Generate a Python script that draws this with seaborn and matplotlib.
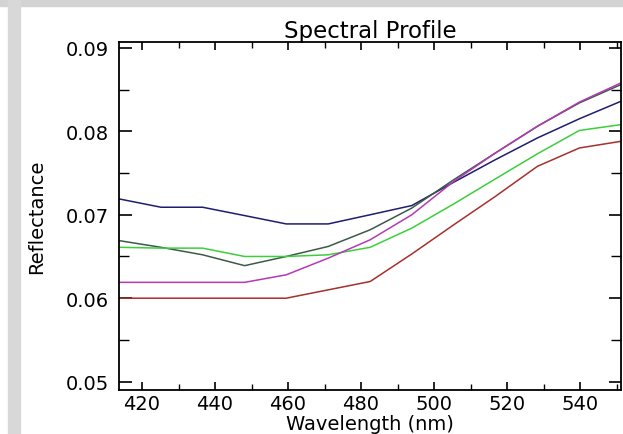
import matplotlib
matplotlib.use("Agg")
import matplotlib.pyplot as plt
from matplotlib.patches import Rectangle
from matplotlib.ticker import MultipleLocator
import numpy as np
import pandas as pd
import seaborn as sns

wavelength = [413.7, 425.2, 436.6, 448.1, 459.5, 471.0, 482.5, 493.9, 505.4, 516.8, 528.3, 539.8, 551.2]
navy = [0.0719, 0.0709, 0.0709, 0.0699, 0.0689, 0.0689, 0.0700, 0.0711, 0.0739, 0.0766, 0.0792, 0.0815, 0.0836]
darkgreen = [0.0669, 0.0661, 0.0652, 0.0639, 0.0650, 0.0662, 0.0682, 0.0708, 0.0742, 0.0774, 0.0806, 0.0834, 0.0856]
green = [0.0661, 0.0660, 0.0660, 0.0650, 0.0650, 0.0652, 0.0661, 0.0684, 0.0713, 0.0743, 0.0773, 0.0801, 0.0808]
magenta = [0.0619, 0.0619, 0.0619, 0.0619, 0.0628, 0.0648, 0.0670, 0.0700, 0.0740, 0.0774, 0.0806, 0.0835, 0.0858]
red = [0.0600, 0.0600, 0.0600, 0.0600, 0.0600, 0.0610, 0.0620, 0.0653, 0.0688, 0.0722, 0.0758, 0.0780, 0.0788]

series = {"navy": navy, "darkgreen": darkgreen, "green": green, "magenta": magenta, "red": red}
colors = {"navy": "#1e1e70", "darkgreen": "#3d5a48", "green": "#3ccf3c", "magenta": "#b33ab3", "red": "#a8302c"}

rows = []
for name, vals in series.items():
    for w, v in zip(wavelength, vals):
        rows.append({"Wavelength": w, "Reflectance": v, "series": name})
df = pd.DataFrame(rows)

sns.set_style("ticks")
plt.rcParams["font.family"] = ["DejaVu Sans"]
plt.rcParams["text.color"] = "black"
plt.rcParams["axes.labelcolor"] = "black"
plt.rcParams["xtick.color"] = "black"
plt.rcParams["ytick.color"] = "black"

fig = plt.figure(figsize=(6.23, 4.35), dpi=100)
fig.patch.set_facecolor("white")
# grey frame strips
fig.patches.append(Rectangle((0, 1 - 7 / 435), 1, 7 / 435, transform=fig.transFigure,
                             color="#d3d3d3", zorder=0))
fig.patches.append(Rectangle((8 / 623, 0), 12 / 623, 1, transform=fig.transFigure,
                             color="#d8d8d8", zorder=0))

ax = fig.add_axes([119 / 623, 44 / 435, (621 - 119) / 623, (392 - 44) / 435])
sns.lineplot(data=df, x="Wavelength", y="Reflectance", hue="series", palette=colors,
             linewidth=1.1, legend=False, ax=ax, estimator=None, sort=False)

ax.set_xlim(413.7, 551.2)
ax.set_ylim(0.049, 0.0907)
ax.xaxis.set_major_locator(MultipleLocator(20))
ax.xaxis.set_minor_locator(MultipleLocator(10))
ax.yaxis.set_major_locator(MultipleLocator(0.01))
ax.yaxis.set_minor_locator(MultipleLocator(0.005))
ax.set_yticks([0.05, 0.06, 0.07, 0.08, 0.09])
ax.set_yticklabels(["0.05", "0.06", "0.07", "0.08", "0.09"])

for s in ax.spines.values():
    s.set_linewidth(1.3)
    s.set_color("black")

ax.tick_params(axis="x", which="major", direction="in", length=6, width=1.2,
               top=True, bottom=True, labelsize=14, pad=3)
ax.tick_params(axis="x", which="minor", direction="in", length=4, width=1.0,
               top=True, bottom=True)
ax.tick_params(axis="y", which="major", direction="in", length=9, width=1.2,
               left=True, right=True, labelsize=14, pad=7)
ax.tick_params(axis="y", which="minor", direction="in", length=7, width=1.0,
               left=True, right=True)

ax.set_title("Spectral Profile", fontsize=16.5, pad=2)
ax.set_xlabel("Wavelength (nm)", fontsize=14, labelpad=0.5)
ax.set_ylabel("Reflectance", fontsize=14, labelpad=14)

fig.savefig("out.png", dpi=100, facecolor="white")
